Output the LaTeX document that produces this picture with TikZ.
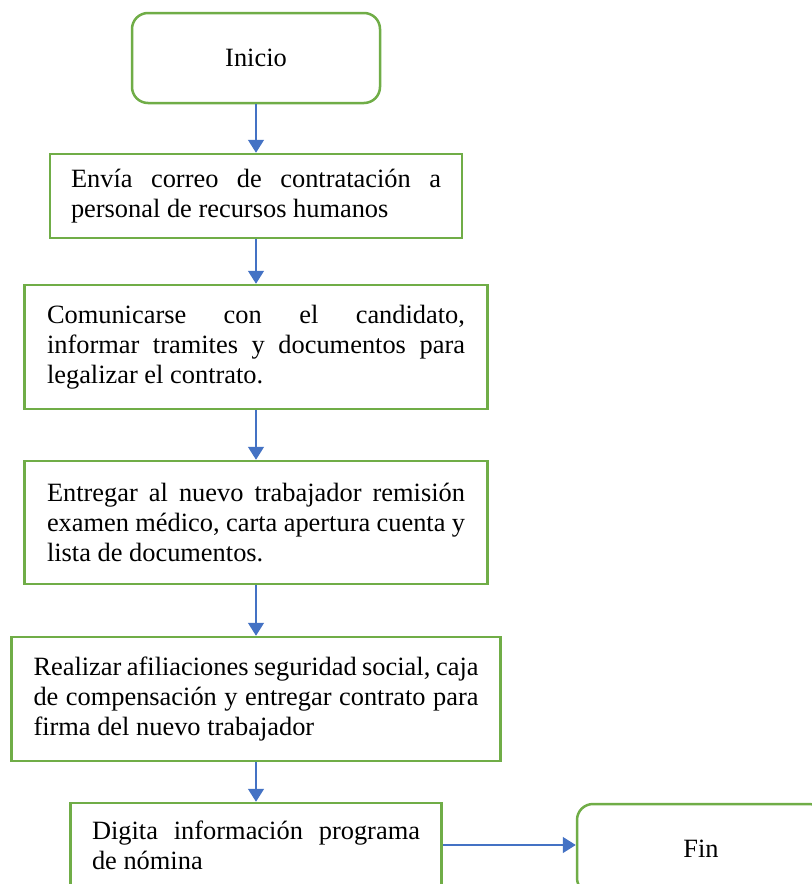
\documentclass[tikz,border=0pt]{standalone}
\usepackage{fontspec}
\setmainfont{Liberation Serif}
\usetikzlibrary{arrows.meta}
\definecolor{boxgreen}{HTML}{70AD47}
\definecolor{arrblue}{HTML}{4472C4}
\hyphenpenalty=10000
\exhyphenpenalty=10000
\tikzset{
  procbox/.style={draw=boxgreen, line width=1.25pt, fill=white, rectangle, align=justify,
    font=\fontsize{13.2}{15}\selectfont, inner sep=0pt},
  termbox/.style={draw=boxgreen, line width=1.25pt, fill=white, rectangle, rounded corners=8pt,
    align=center, font=\fontsize{13.2}{15}\selectfont,
    minimum width=124pt, minimum height=45pt},
  arr/.style={draw=arrblue, line width=0.75pt, -{Triangle[length=6.5pt,width=8pt]}, arrblue}
}
\begin{document}
\begin{tikzpicture}[x=0.5pt,y=-0.5pt]
\clip (0,0) rectangle (812,884);
\fill[white] (0,0) rectangle (812,884);
\node[termbox] (inicio) at (256,58) {Inicio};
\node[procbox, minimum width=206pt, minimum height=42pt, text width=185pt] (b1) at (256,196)
  {Envía correo de contratación a\linebreak personal de recursos humanos};
\node[procbox, minimum width=231.5pt, minimum height=62pt, text width=209pt] (b2) at (256,347)
  {Comunicarse con el candidato,\linebreak informar tramites y documentos para\linebreak legalizar el contrato.};
\node[procbox, minimum width=231.5pt, minimum height=61.5pt, text width=209pt] (b3) at (256,522.5)
  {Entregar al nuevo trabajador remisión\linebreak examen médico, carta apertura cuenta y\linebreak lista de documentos.};
\node[procbox, minimum width=244.5pt, minimum height=62pt, text width=222.5pt] (b4) at (256,699)
  {Realizar afiliaciones seguridad social, caja\linebreak de compensación y entregar contrato para\linebreak firma del nuevo trabajador};
\node[procbox, minimum width=185.5pt, minimum height=42pt, text width=164pt] (b5) at (256,845)
  {Digita información programa\linebreak de nómina};
\node[termbox] (fin) at (701,849) {Fin};
\draw[arr] (inicio) -- (b1);
\draw[arr] (b1) -- (b2);
\draw[arr] (b2) -- (b3);
\draw[arr] (b3) -- (b4);
\draw[arr] (b4) -- (b5);
\draw[arr] (b5.east) -- (b5.east -| fin.west);
\end{tikzpicture}
\end{document}
